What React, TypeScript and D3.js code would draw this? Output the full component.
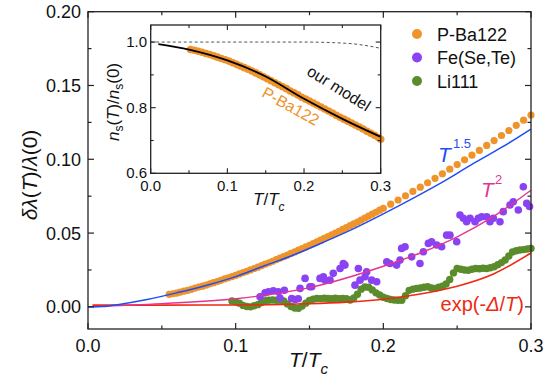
import React from 'react';
import * as d3 from 'd3';

// main panel: P-Ba122 penetration depth
const pbaT = [0.055, 0.0575, 0.06, 0.0625, 0.065, 0.0675, 0.07, 0.0725, 0.075, 0.0775, 0.08, 0.0825, 0.085, 0.0875, 0.09, 0.0925, 0.095, 0.0975, 0.1, 0.1025, 0.105, 0.1075, 0.11, 0.1125, 0.115, 0.1175, 0.12, 0.1225, 0.125, 0.1275, 0.13, 0.1325, 0.135, 0.1375, 0.14, 0.1425, 0.145, 0.1475, 0.15, 0.1525, 0.155, 0.1575, 0.16, 0.1625, 0.165, 0.1675, 0.17, 0.1725, 0.175, 0.1775, 0.18, 0.1825, 0.185, 0.1875, 0.19, 0.1925, 0.195, 0.1975, 0.2, 0.205, 0.21, 0.215, 0.22, 0.225, 0.23, 0.235, 0.24, 0.245, 0.25, 0.255, 0.26, 0.265, 0.27, 0.275, 0.28, 0.285, 0.29, 0.295, 0.3];
const pbaV = [0.0085, 0.0089, 0.0093, 0.01, 0.0106, 0.0112, 0.0119, 0.0127, 0.0134, 0.014, 0.0147, 0.0156, 0.0164, 0.0172, 0.018, 0.0189, 0.0197, 0.0205, 0.0214, 0.0223, 0.0232, 0.0241, 0.025, 0.026, 0.0269, 0.0279, 0.0289, 0.0299, 0.0309, 0.032, 0.033, 0.034, 0.0351, 0.0362, 0.0372, 0.0384, 0.0395, 0.0406, 0.0417, 0.0429, 0.044, 0.0452, 0.0464, 0.0476, 0.0488, 0.05, 0.0512, 0.0525, 0.0537, 0.055, 0.0562, 0.0575, 0.0588, 0.0602, 0.0615, 0.0628, 0.0641, 0.0655, 0.0668, 0.0696, 0.0724, 0.0753, 0.0782, 0.0811, 0.0841, 0.0871, 0.0902, 0.0933, 0.0964, 0.0996, 0.1028, 0.106, 0.1094, 0.1127, 0.1161, 0.1195, 0.123, 0.1265, 0.13];

// Fe(Se,Te)
const fstT = [0.1165, 0.1199, 0.1222, 0.1255, 0.1289, 0.13, 0.133, 0.1379, 0.1402, 0.1424, 0.1436, 0.147, 0.1503, 0.1515, 0.1571, 0.1594, 0.1605, 0.1639, 0.1661, 0.1707, 0.1729, 0.174, 0.1808, 0.1831, 0.1842, 0.1876, 0.1887, 0.1921, 0.1955, 0.2023, 0.2045, 0.209, 0.2113, 0.2124, 0.2147, 0.2192, 0.2248, 0.2271, 0.2305, 0.2327, 0.2361, 0.2395, 0.2429, 0.2451, 0.2497, 0.2519, 0.2542, 0.2564, 0.2587, 0.2621, 0.2643, 0.2666, 0.27, 0.2722, 0.2745, 0.279, 0.2812, 0.2858, 0.288, 0.2914, 0.2948, 0.2971, 0.299];
const fstV = [0.0068, 0.0095, 0.0102, 0.0109, 0.0102, 0.006, 0.0113, 0.0057, 0.005, 0.0055, 0.0125, 0.0193, 0.0136, 0.0136, 0.0193, 0.0204, 0.0181, 0.0181, 0.0227, 0.026, 0.0294, 0.0283, 0.0147, 0.026, 0.0181, 0.0204, 0.0237, 0.0181, 0.017, 0.0305, 0.0294, 0.0283, 0.0317, 0.0396, 0.0407, 0.0339, 0.0294, 0.0373, 0.043, 0.0441, 0.0419, 0.0407, 0.0486, 0.0486, 0.0441, 0.0622, 0.06, 0.0577, 0.06, 0.0577, 0.06, 0.0611, 0.0611, 0.0577, 0.06, 0.0577, 0.0645, 0.069, 0.0712, 0.0656, 0.0814, 0.0701, 0.068];

// Li111
const liT = [0.0975, 0.1, 0.1025, 0.105, 0.1075, 0.11, 0.1125, 0.115, 0.1175, 0.12, 0.1225, 0.125, 0.1275, 0.13, 0.1325, 0.135, 0.1375, 0.14, 0.1425, 0.145, 0.1475, 0.15, 0.1525, 0.155, 0.1575, 0.16, 0.1625, 0.165, 0.1675, 0.17, 0.1725, 0.175, 0.1775, 0.18, 0.1825, 0.185, 0.1875, 0.19, 0.1925, 0.195, 0.1975, 0.2, 0.2025, 0.205, 0.2075, 0.21, 0.2125, 0.215, 0.2175, 0.22, 0.2225, 0.225, 0.2275, 0.23, 0.2325, 0.235, 0.2375, 0.24, 0.2425, 0.245, 0.2475, 0.25, 0.2525, 0.255, 0.2575, 0.26, 0.2625, 0.265, 0.2675, 0.27, 0.2725, 0.275, 0.2775, 0.28, 0.2825, 0.285, 0.2875, 0.29, 0.2925, 0.295, 0.2975, 0.3];
const liV = [0.004, 0.0035, 0.0025, 0.001, 0.0002, 0.0, 0.0008, 0.0015, 0.003, 0.0042, 0.0045, 0.0046, 0.0045, 0.0044, 0.004, 0.002, 0.0002, -0.0008, -0.001, 0.0005, 0.0025, 0.0043, 0.0052, 0.0057, 0.0056, 0.0058, 0.0057, 0.0055, 0.0058, 0.0056, 0.0057, 0.0055, 0.0047, 0.006, 0.0085, 0.012, 0.0135, 0.0133, 0.0115, 0.0095, 0.008, 0.0065, 0.0057, 0.005, 0.0046, 0.0045, 0.0045, 0.0075, 0.0112, 0.012, 0.0125, 0.0128, 0.0133, 0.0136, 0.0128, 0.0125, 0.0134, 0.014, 0.0155, 0.0185, 0.023, 0.026, 0.0255, 0.025, 0.0248, 0.0255, 0.026, 0.0258, 0.0262, 0.026, 0.0265, 0.0272, 0.0285, 0.03, 0.0318, 0.0345, 0.0372, 0.038, 0.0385, 0.0388, 0.0392, 0.0396];

// fit curves
const fit15T = [0, 0.01, 0.02, 0.04, 0.06, 0.08, 0.1, 0.12, 0.14, 0.16, 0.18, 0.2, 0.22, 0.24, 0.26, 0.28, 0.3];
const fit15V = [0, 0.0002, 0.0015, 0.005, 0.0095, 0.0145, 0.0205, 0.028, 0.0355, 0.044, 0.053, 0.063, 0.0735, 0.0845, 0.0965, 0.108, 0.1205];
const fit2T = [0, 0.05, 0.1, 0.15, 0.2, 0.225, 0.25, 0.275, 0.3];
const fit2V = [0, 0.0022, 0.0055, 0.013, 0.0275, 0.0365, 0.0475, 0.0615, 0.079];
const fitExpT = [0.003, 0.05, 0.1, 0.15, 0.175, 0.2, 0.225, 0.25, 0.275, 0.3];
const fitExpV = [0.0012, 0.0012, 0.0013, 0.0021, 0.0032, 0.0052, 0.0087, 0.014, 0.0225, 0.0365];

// inset: superfluid density
const insetT = [0.052, 0.057, 0.062, 0.067, 0.072, 0.077, 0.082, 0.087, 0.092, 0.097, 0.102, 0.107, 0.112, 0.117, 0.122, 0.127, 0.132, 0.137, 0.142, 0.147, 0.152, 0.157, 0.162, 0.167, 0.172, 0.177, 0.182, 0.187, 0.192, 0.197, 0.202, 0.207, 0.212, 0.217, 0.222, 0.227, 0.232, 0.237, 0.242, 0.247, 0.252, 0.257, 0.262, 0.267, 0.272, 0.277, 0.282, 0.287, 0.292, 0.297, 0.3];
const insetNs = [0.977, 0.975, 0.972, 0.969, 0.965, 0.962, 0.958, 0.954, 0.95, 0.946, 0.942, 0.937, 0.932, 0.927, 0.922, 0.917, 0.912, 0.906, 0.9, 0.894, 0.888, 0.882, 0.876, 0.87, 0.864, 0.858, 0.851, 0.845, 0.839, 0.832, 0.826, 0.82, 0.814, 0.808, 0.802, 0.796, 0.79, 0.784, 0.777, 0.771, 0.765, 0.759, 0.753, 0.747, 0.741, 0.735, 0.728, 0.722, 0.716, 0.709, 0.704];
const modelT = [0.01, 0.05, 0.1, 0.15, 0.2, 0.25, 0.3];
const modelNs = [0.994, 0.977, 0.944, 0.895, 0.827, 0.766, 0.711];
const dashT = [0, 0.1, 0.2, 0.24, 0.27, 0.3];
const dashNs = [1, 1, 1, 0.998, 0.993, 0.981];

const mainXTicks = [0, 0.1, 0.2, 0.3];
const mainXMinor = [0.05, 0.15, 0.25];
const mainYTicks = [0, 0.05, 0.1, 0.15, 0.2];
const mainYMinor = [0.025, 0.075, 0.125, 0.175];
const insetXTicks = [0, 0.1, 0.2, 0.3];
const insetXMinor = [0.05, 0.15, 0.25];
const insetYTicks = [0.6, 0.8, 1.0];
const insetYMinor = [0.7, 0.9];

const legendNames = ['P-Ba122', 'Fe(Se,Te)', 'Li111'];
const ORANGE = '#ef932b';
const PURPLE = '#8a42f5';
const GREEN = '#5b8c2c';
const legendColors = [ORANGE, PURPLE, GREEN];

const FONT = '"Liberation Sans", Arial, sans-serif';
const AXIS = '#222';

const zip = (a: number[], b: number[]) => a.map((t, i) => [t, b[i]] as [number, number]);

export default function App() {
  const x = d3.scaleLinear().domain([0, 0.3]).range([88, 531]);
  const y = d3.scaleLinear().domain([-0.015, 0.2]).range([329, 11.7]);
  const ix = d3.scaleLinear().domain([0, 0.3]).range([150.7, 380.7]);
  const iy = d3.scaleLinear().domain([0.6, 1.052]).range([173.3, 25]);

  const line = d3.line<[number, number]>().x(d => x(d[0])).y(d => y(d[1])).curve(d3.curveMonotoneX);
  const iline = d3.line<[number, number]>().x(d => ix(d[0])).y(d => iy(d[1])).curve(d3.curveMonotoneX);

  const [x0, x1] = x.range();
  const [yb, yt] = y.range();
  const [ix0, ix1] = ix.range();
  const [iyb, iyt] = iy.range();

  return (
    <svg width={555} height={385} style={{ position: 'absolute', left: 0, top: 0, background: '#fff' }} fontFamily={FONT}>
      {/* data, main panel */}
      {zip(liT, liV).map((d, i) => (
        <circle key={'li' + i} cx={x(d[0])} cy={y(d[1])} r={3.7} fill={GREEN} />
      ))}
      {zip(fstT, fstV).map((d, i) => (
        <circle key={'fs' + i} cx={x(d[0])} cy={y(d[1])} r={3.8} fill={PURPLE} />
      ))}
      {zip(pbaT, pbaV).map((d, i) => (
        <circle key={'pb' + i} cx={x(d[0])} cy={y(d[1])} r={3.6} fill={ORANGE} />
      ))}
      <path d={line(zip(fitExpT, fitExpV)) || ''} fill="none" stroke="#ee2a14" strokeWidth={1.6} />
      <path d={line(zip(fit2T, fit2V)) || ''} fill="none" stroke="#e5348e" strokeWidth={1.4} />
      <path d={line(zip(fit15T, fit15V)) || ''} fill="none" stroke="#1f4df2" strokeWidth={1.5} />

      {/* fit labels */}
      <text x={438} y={162} fill="#1f4df2" fontSize={21} fontStyle="italic">T</text>
      <text x={453} y={148} fill="#1f4df2" fontSize={13}>1.5</text>
      <text x={481} y={197} fill="#e5348e" fontSize={21} fontStyle="italic">T</text>
      <text x={495} y={184} fill="#e5348e" fontSize={13}>2</text>
      <text x={524} y={311} fill="#ee2a14" fontSize={20} textAnchor="end">
        exp(-<tspan fontStyle="italic">Δ</tspan>/<tspan fontStyle="italic">T</tspan>)
      </text>

      {/* main frame and ticks */}
      <rect x={x0} y={yt} width={x1 - x0} height={yb - yt} fill="none" stroke={AXIS} strokeWidth={1.3} />
      {mainXTicks.map(t => (
        <g key={'mx' + t}>
          <line x1={x(t)} x2={x(t)} y1={yb} y2={yb - 6} stroke={AXIS} strokeWidth={1.2} />
          <line x1={x(t)} x2={x(t)} y1={yt} y2={yt + 6} stroke={AXIS} strokeWidth={1.2} />
          <text x={x(t)} y={351.5} fontSize={18} textAnchor="middle" fill="#111">{t.toFixed(1)}</text>
        </g>
      ))}
      {mainXMinor.map(t => (
        <g key={'mxm' + t}>
          <line x1={x(t)} x2={x(t)} y1={yb} y2={yb - 3.5} stroke={AXIS} strokeWidth={1.2} />
          <line x1={x(t)} x2={x(t)} y1={yt} y2={yt + 3.5} stroke={AXIS} strokeWidth={1.2} />
        </g>
      ))}
      {mainYTicks.map(t => (
        <g key={'my' + t}>
          <line x1={x0} x2={x0 + 6} y1={y(t)} y2={y(t)} stroke={AXIS} strokeWidth={1.2} />
          <line x1={x1} x2={x1 - 6} y1={y(t)} y2={y(t)} stroke={AXIS} strokeWidth={1.2} />
          <text x={81} y={y(t) + 6.5} fontSize={18} textAnchor="end" fill="#111">{t.toFixed(2)}</text>
        </g>
      ))}
      {mainYMinor.map(t => (
        <g key={'mym' + t}>
          <line x1={x0} x2={x0 + 3.5} y1={y(t)} y2={y(t)} stroke={AXIS} strokeWidth={1.2} />
          <line x1={x1} x2={x1 - 3.5} y1={y(t)} y2={y(t)} stroke={AXIS} strokeWidth={1.2} />
        </g>
      ))}

      {/* main axis titles */}
      <text x={289} y={367} fontSize={21} fill="#111">
        <tspan fontStyle="italic">T</tspan>/<tspan fontStyle="italic">T</tspan>
        <tspan fontStyle="italic" fontSize={15} dy={7}>c</tspan>
      </text>
      <text transform="translate(37,175) rotate(-90)" fontSize={21} textAnchor="middle" fill="#111">
        <tspan fontStyle="italic">δλ</tspan>(<tspan fontStyle="italic">T</tspan>)/<tspan fontStyle="italic">λ</tspan>(0)
      </text>

      {/* legend */}
      {legendNames.map((n, i) => (
        <g key={n}>
          <circle cx={417} cy={34 + i * 23.5} r={5} fill={legendColors[i]} />
          <text x={437} y={34 + i * 23.5 + 6.5} fontSize={18} fill="#111">{n}</text>
        </g>
      ))}

      {/* inset */}
      <rect x={ix0} y={iyt} width={ix1 - ix0} height={iyb - iyt} fill="#fff" />
      <path d={iline(zip(dashT, dashNs)) || ''} fill="none" stroke="#555" strokeWidth={1} strokeDasharray="3,2.5" />
      {zip(insetT, insetNs).map((d, i) => (
        <circle key={'in' + i} cx={ix(d[0])} cy={iy(d[1])} r={3.8} fill={ORANGE} />
      ))}
      <path d={iline(zip(modelT, modelNs)) || ''} fill="none" stroke="#000" strokeWidth={1.8} />
      <text transform="translate(336,93) rotate(32)" fontSize={16} textAnchor="middle" fill="#111">our model</text>
      <text transform="translate(288,111) rotate(29)" fontSize={16} textAnchor="middle" fill={ORANGE}>P-Ba122</text>

      <rect x={ix0} y={iyt} width={ix1 - ix0} height={iyb - iyt} fill="none" stroke={AXIS} strokeWidth={1.3} />
      {insetXTicks.map(t => (
        <g key={'ix' + t}>
          <line x1={ix(t)} x2={ix(t)} y1={iyb} y2={iyb - 5} stroke={AXIS} strokeWidth={1.1} />
          <line x1={ix(t)} x2={ix(t)} y1={iyt} y2={iyt + 5} stroke={AXIS} strokeWidth={1.1} />
          <text x={ix(t)} y={190.5} fontSize={15} textAnchor="middle" fill="#111">{t.toFixed(1)}</text>
        </g>
      ))}
      {insetXMinor.map(t => (
        <g key={'ixm' + t}>
          <line x1={ix(t)} x2={ix(t)} y1={iyb} y2={iyb - 3} stroke={AXIS} strokeWidth={1.1} />
          <line x1={ix(t)} x2={ix(t)} y1={iyt} y2={iyt + 3} stroke={AXIS} strokeWidth={1.1} />
        </g>
      ))}
      {insetYTicks.map(t => (
        <g key={'iy' + t}>
          <line x1={ix0} x2={ix0 + 5} y1={iy(t)} y2={iy(t)} stroke={AXIS} strokeWidth={1.1} />
          <line x1={ix1} x2={ix1 - 5} y1={iy(t)} y2={iy(t)} stroke={AXIS} strokeWidth={1.1} />
          <text x={147} y={iy(t) + 5} fontSize={15} textAnchor="end" fill="#111">{t.toFixed(1)}</text>
        </g>
      ))}
      {insetYMinor.map(t => (
        <g key={'iym' + t}>
          <line x1={ix0} x2={ix0 + 3} y1={iy(t)} y2={iy(t)} stroke={AXIS} strokeWidth={1.1} />
          <line x1={ix1} x2={ix1 - 3} y1={iy(t)} y2={iy(t)} stroke={AXIS} strokeWidth={1.1} />
        </g>
      ))}
      <text x={253} y={205} fontSize={17} fill="#111">
        <tspan fontStyle="italic">T</tspan>/<tspan fontStyle="italic">T</tspan>
        <tspan fontStyle="italic" fontSize={12} dy={6}>c</tspan>
      </text>
      <text transform="translate(119,102) rotate(-90)" fontSize={17} textAnchor="middle" fill="#111">
        <tspan fontStyle="italic">n</tspan>
        <tspan fontSize={12} dy={4}>s</tspan>
        <tspan dy={-4}>(</tspan><tspan fontStyle="italic">T</tspan>)/<tspan fontStyle="italic">n</tspan>
        <tspan fontSize={12} dy={4}>s</tspan>
        <tspan dy={-4}>(0)</tspan>
      </text>
    </svg>
  );
}
